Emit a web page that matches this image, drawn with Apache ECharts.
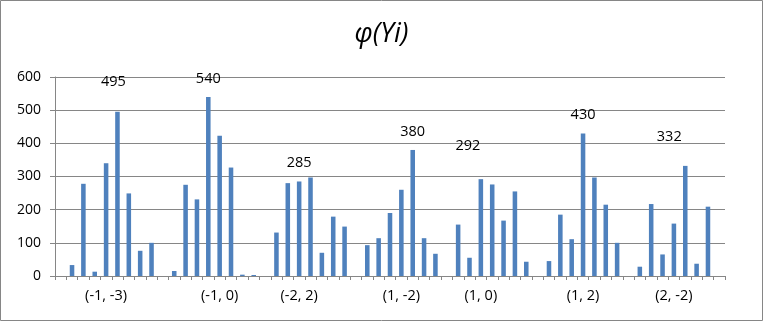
<!DOCTYPE html>
<html>
<head>
<meta charset="utf-8">
<script src="https://cdn.jsdelivr.net/npm/echarts@6/dist/echarts.min.js"></script>
<style>
html,body{margin:0;padding:0;background:#fff;}
#c{width:763px;height:321px;}
</style>
</head>
<body>
<div id="c"></div>
<script>
// Category labels (most categories are unlabeled)
const categories = [
  '', '', '', '', '(-1, -3)', '', '', '', '', '',
  '', '', '', '', '(-1, 0)', '', '', '', '', '',
  '', '(-2, 2)', '', '', '', '', '', '', '', '',
  '(1, -2)', '', '', '', '', '', '', '(1, 0)', '', '',
  '', '', '', '', '', '', '(1, 2)', '', '', '',
  '', '', '', '', '(2, -2)', '', '', '', ''
];
// Bar values (null = no bar)
const values = [
  null, 33, 278, 13, 340, 495, 249, 76, 100, null,
  15, 275, 231, 540, 423, 327, 4, 3, null, 131,
  280, 285, 297, 70, 179, 149, null, 93, 114, 190,
  260, 380, 114, 67, null, 155, 55, 292, 276, 167,
  255, 43, null, 45, 185, 111, 430, 297, 215, 100,
  null, 28, 217, 65, 158, 332, 37, 209, null
];
// Annotated values
const annotated = [495, 540, 285, 380, 292, 430, 332];
const yTicks = [0, 100, 200, 300, 400, 500, 600];

// label offsets (styling, kept separate from data)
const labelOffsets = {495: [-4, -11], 292: [-13, -15], 332: [-16, -11]};

const seriesData = values.map(function (v) {
  if (v !== null && annotated.indexOf(v) >= 0) {
    return {
      value: v,
      label: {show: true, offset: labelOffsets[v] || [0, 0]}
    };
  }
  return v;
});

const chart = echarts.init(document.getElementById('c'), null, {renderer: 'canvas'});
const font = 'Open Sans';
chart.setOption({
  animation: false,
  backgroundColor: '#fff',
  title: {
    text: 'φ(Yi)',
    left: 'center',
    top: 16,
    textStyle: {fontFamily: font, fontStyle: 'italic', fontWeight: 'normal', fontSize: 27, color: '#000'}
  },
  grid: {left: 55, right: 38, top: 77, bottom: 45, containLabel: false},
  xAxis: {
    type: 'category',
    data: categories,
    boundaryGap: true,
    axisLine: {lineStyle: {color: '#868686', width: 1}},
    axisTick: {show: true, interval: 0, length: 4, lineStyle: {color: '#868686'}},
    axisLabel: {interval: 0, color: '#000', fontFamily: font, fontSize: 14.5, margin: 12}
  },
  yAxis: {
    type: 'value',
    min: yTicks[0],
    max: yTicks[yTicks.length - 1],
    interval: 100,
    axisLine: {show: true, lineStyle: {color: '#868686'}},
    axisTick: {show: true, length: 5, lineStyle: {color: '#868686'}},
    splitLine: {lineStyle: {color: '#868686', width: 1}},
    axisLabel: {color: '#000', fontFamily: font, fontSize: 14, margin: 14}
  },
  graphic: [{
    type: 'rect',
    shape: {x: 0.5, y: 0.5, width: 762, height: 320},
    style: {fill: 'none', stroke: '#868686', lineWidth: 1},
    silent: true
  }],
  series: [{
    type: 'bar',
    data: seriesData,
    barWidth: '40%',
    itemStyle: {color: '#4F81BD'},
    label: {
      show: false,
      position: 'top',
      distance: 11,
      color: '#000',
      fontFamily: font,
      fontSize: 14.5
    }
  }]
});
</script>
</body>
</html>
